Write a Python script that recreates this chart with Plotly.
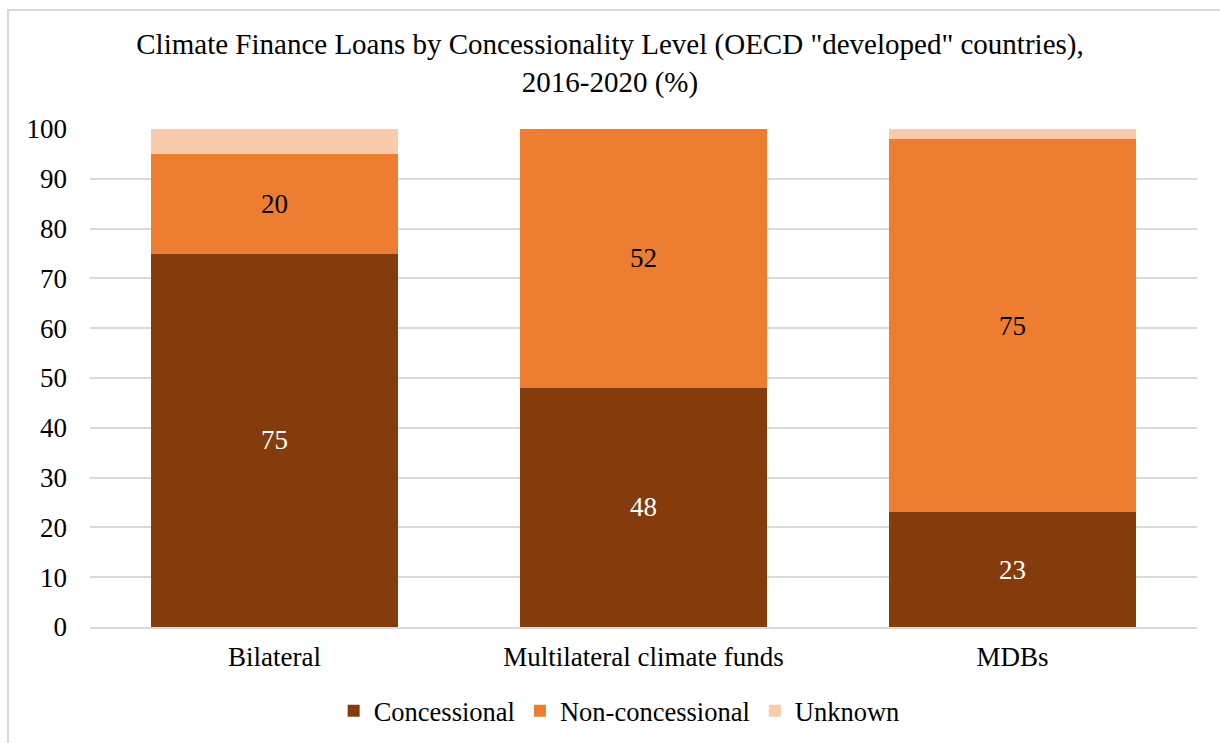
import plotly.graph_objects as go

categories = ["Bilateral", "Multilateral climate funds", "MDBs"]
concessional = [75, 48, 23]
non_concessional = [20, 52, 75]
unknown = [5, 0, 2]

series_names = ["Concessional", "Non-concessional", "Unknown"]
colors = ["#843C0C", "#ED7D31", "#F8CBAD"]
y_ticks = list(range(0, 101, 10))

FONT = "Liberation Serif"
SIZE = 27
TITLE_SIZE = 29
LEGEND_SIZE = 26.5

fig = go.Figure()
fig.add_trace(go.Bar(
    x=categories, y=concessional, name=series_names[0],
    marker=dict(color=colors[0], line=dict(width=0)),
    text=[str(v) for v in concessional], textposition="inside",
    insidetextanchor="middle",
    textfont=dict(color="white", size=SIZE, family=FONT),
))
fig.add_trace(go.Bar(
    x=categories, y=non_concessional, name=series_names[1],
    marker=dict(color=colors[1], line=dict(width=0)),
    text=[str(v) for v in non_concessional], textposition="inside",
    insidetextanchor="middle",
    textfont=dict(color="black", size=SIZE, family=FONT),
))
fig.add_trace(go.Bar(
    x=categories, y=unknown, name=series_names[2],
    marker=dict(color=colors[2], line=dict(width=0)),
))

fig.update_layout(
    template="none",
    barmode="stack",
    bargap=0.333,
    width=1220, height=743,
    margin=dict(l=90, r=23, t=129, b=116, autoexpand=False),
    paper_bgcolor="white", plot_bgcolor="white",
    font=dict(family=FONT, size=SIZE, color="black"),
    title=dict(
        text='Climate Finance Loans by Concessionality Level (OECD "developed" countries),<br>2016-2020 (%)',
        x=0.5, xref="container", xanchor="center",
        y=(743 - 54) / 743, yref="container", yanchor="middle",
        font=dict(family=FONT, size=TITLE_SIZE, color="black"),
    ),
    legend=dict(
        orientation="h", x=0.478, xanchor="center",
        y=(627 - 711) / 498, yanchor="middle",
        font=dict(family=FONT, size=LEGEND_SIZE, color="black"),
        traceorder="normal",
    ),
    showlegend=True,
)

fig.update_xaxes(
    showline=True, linecolor="#D9D9D9", linewidth=2,
    showgrid=False, ticks="", ticklabelstandoff=5,
    tickfont=dict(family=FONT, size=SIZE, color="black"),
)
fig.update_yaxes(
    range=[0, 100], tickvals=y_ticks, ticktext=[str(v) for v in y_ticks],
    showgrid=True, gridcolor="#D9D9D9", gridwidth=2,
    showline=False, zeroline=False, ticks="", ticklabelstandoff=22,
    tickfont=dict(family=FONT, size=SIZE, color="black"),
)

# light outer frame of the chart area
fig.add_shape(
    type="rect", xref="paper", yref="paper",
    x0=(8 - 90) / 1107, x1=1.2, y0=-0.6, y1=(627 - 10) / 498,
    line=dict(color="#D9D9D9", width=2), fillcolor="rgba(0,0,0,0)",
    layer="below",
)

fig.write_html("out.html")
